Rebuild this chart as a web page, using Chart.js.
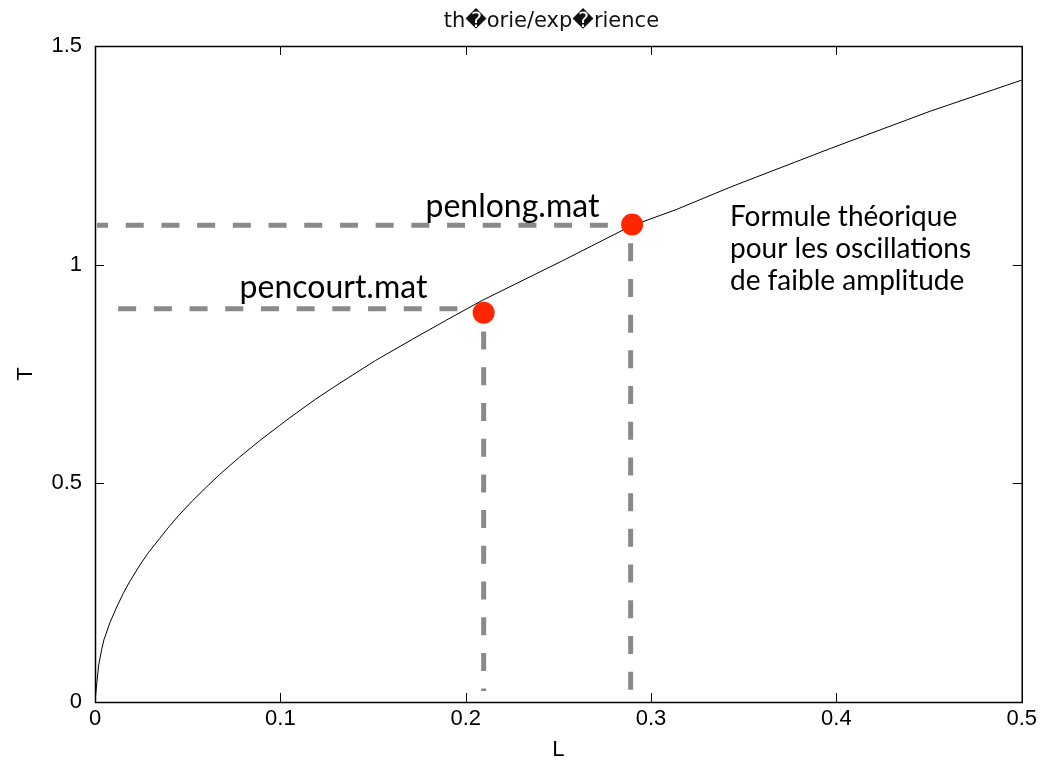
<!DOCTYPE html>
<html>
<head>
<meta charset="utf-8">
<script src="https://cdn.jsdelivr.net/npm/chart.js@4.4.0/dist/chart.umd.min.js"></script>
<style>
html, body { margin: 0; padding: 0; background: #fff; }
</style>
</head>
<body>
<canvas id="graphe" width="1041" height="771"></canvas>
<script>
// courbe théorique (L en m, T en s)
const courbeL = [0, 0.001, 0.002, 0.0036, 0.0048, 0.0081, 0.0117, 0.0152, 0.0188, 0.0242, 0.0287, 0.0349,
    0.0394, 0.0448, 0.0528, 0.06, 0.0672, 0.078, 0.0887, 0.0995, 0.1048, 0.1192, 0.1317, 0.1514, 0.1711, 0.1891,
    0.2088, 0.2518, 0.2876, 0.2948, 0.3136, 0.3432, 0.397, 0.4507, 0.5];
const courbeT = [0, 0.045, 0.085, 0.12, 0.142, 0.182, 0.217, 0.248, 0.276, 0.313, 0.341, 0.374,
    0.398, 0.425, 0.461, 0.491, 0.520, 0.560, 0.597, 0.632, 0.649, 0.693, 0.728, 0.781, 0.829, 0.872,
    0.918, 1.008, 1.085, 1.097, 1.126, 1.178, 1.266, 1.351, 1.422];

// mesures
const mesuresNoms = ['pencourt.mat', 'penlong.mat'];
const mesuresL = [0.2097, 0.2898];
const mesuresT = [0.89, 1.092];

// pointillés de lecture
const guideCourtH = { L: [0.0125, 0.21], T: [0.899, 0.899] };
const guideCourtV = { L: [0.2097, 0.2097], T: [0.847, 0.025] };
const guideLongH = { L: [0.0011, 0.286], T: [1.090, 1.090] };
const guideLongV = { L: [0.289, 0.289], T: [1.049, 0.025] };

const ticksL = [0, 0.1, 0.2, 0.3, 0.4, 0.5];
const ticksT = [0, 0.5, 1, 1.5];

const titre = 'th\uFFFDorie/exp\uFFFDrience';
const note = ['Formule théorique', 'pour les oscillations', 'de faible amplitude'];

const pts = (xs, ys) => xs.map((x, i) => ({ x: x, y: ys[i] }));
const GRIS = 'rgb(138,138,138)';

function guide(g, offset) {
    return {
        data: pts(g.L, g.T), showLine: true, pointRadius: 0, borderColor: GRIS,
        borderWidth: 5, borderDash: [18, 17.7], borderDashOffset: offset || 0, order: 2
    };
}

// cadre, graduations intérieures et textes
const cadre = {
    id: 'cadre',
    afterDatasetsDraw(chart) {
        const { ctx, chartArea: a, scales: { x, y } } = chart;
        ctx.save();
        ctx.strokeStyle = '#000';
        ctx.lineWidth = 1.5;
        ctx.strokeRect(a.left + 0.5, a.top + 0.5, a.right - a.left, a.bottom - a.top);
        ctx.lineWidth = 1;
        ctx.beginPath();
        ticksL.forEach(v => {
            const px = Math.round(x.getPixelForValue(v)) + 0.5;
            ctx.moveTo(px, a.bottom); ctx.lineTo(px, a.bottom - 9);
            ctx.moveTo(px, a.top); ctx.lineTo(px, a.top + 9);
        });
        ticksT.forEach(v => {
            const py = Math.round(y.getPixelForValue(v)) + 0.5;
            ctx.moveTo(a.left, py); ctx.lineTo(a.left + 9, py);
            ctx.moveTo(a.right, py); ctx.lineTo(a.right - 9, py);
        });
        ctx.stroke();

        ctx.fillStyle = '#111';
        ctx.textBaseline = 'alphabetic';
        ctx.textAlign = 'center';
        ctx.font = '21px "DejaVu Sans", sans-serif';
        ctx.fillText(titre, (a.left + a.right) / 2 - 7, 27);

        ctx.fillStyle = '#000';
        ctx.textAlign = 'left';
        ctx.font = '32px Lato, sans-serif';
        ctx.fillText(mesuresNoms[0], x.getPixelForValue(0.078), y.getPixelForValue(0.923));
        ctx.fillText(mesuresNoms[1], x.getPixelForValue(0.1783), y.getPixelForValue(1.1098));
        ctx.font = '28px Lato, sans-serif';
        const baseT = [1.0885, 1.0153, 0.942];
        note.forEach((t, i) => ctx.fillText(t, x.getPixelForValue(0.3426), y.getPixelForValue(baseT[i])));
        ctx.restore();
    }
};

const fmt = v => String(+Number(v).toFixed(2));

new Chart(document.getElementById('graphe'), {
    type: 'scatter',
    data: {
        datasets: [
            {
                data: pts(mesuresL, mesuresT), pointRadius: 11, pointHoverRadius: 11,
                pointBackgroundColor: 'rgb(255,38,0)', pointBorderWidth: 0, order: 0
            },
            {
                data: pts(courbeL, courbeT), showLine: true, pointRadius: 0, borderColor: '#000',
                borderWidth: 1, tension: 0, order: 1
            },
            guide(guideCourtH),
            guide(guideCourtV),
            guide(guideLongH, 7),
            guide(guideLongV)
        ]
    },
    options: {
        responsive: false,
        animation: false,
        events: [],
        layout: { padding: { top: 46, right: 16, left: 0, bottom: 0 } },
        plugins: { legend: { display: false }, title: { display: false }, tooltip: { enabled: false } },
        scales: {
            x: {
                type: 'linear', min: 0, max: 0.5,
                afterFit: s => { s.height = 69; },
                afterBuildTicks: s => { s.ticks = ticksL.map(v => ({ value: v })); },
                grid: { display: false, drawTicks: false },
                border: { display: false },
                ticks: { callback: fmt, color: '#000', padding: 4, maxRotation: 0,
                    font: { family: '"Liberation Sans", sans-serif', size: 22 } },
                title: { display: true, text: 'L', color: '#000', padding: { bottom: 8 },
                    font: { family: '"Liberation Sans", sans-serif', size: 22 } }
            },
            y: {
                type: 'linear', min: 0, max: 1.5,
                afterFit: s => { s.width = 95; },
                afterBuildTicks: s => { s.ticks = ticksT.map(v => ({ value: v })); },
                grid: { display: false, drawTicks: false },
                border: { display: false },
                ticks: { callback: fmt, color: '#000', padding: 13,
                    font: { family: '"Liberation Sans", sans-serif', size: 22 } },
                title: { display: true, text: 'T', color: '#000', padding: { top: 13 },
                    font: { family: '"Liberation Sans", sans-serif', size: 22 } }
            }
        }
    },
    plugins: [cadre]
});
</script>
</body>
</html>
